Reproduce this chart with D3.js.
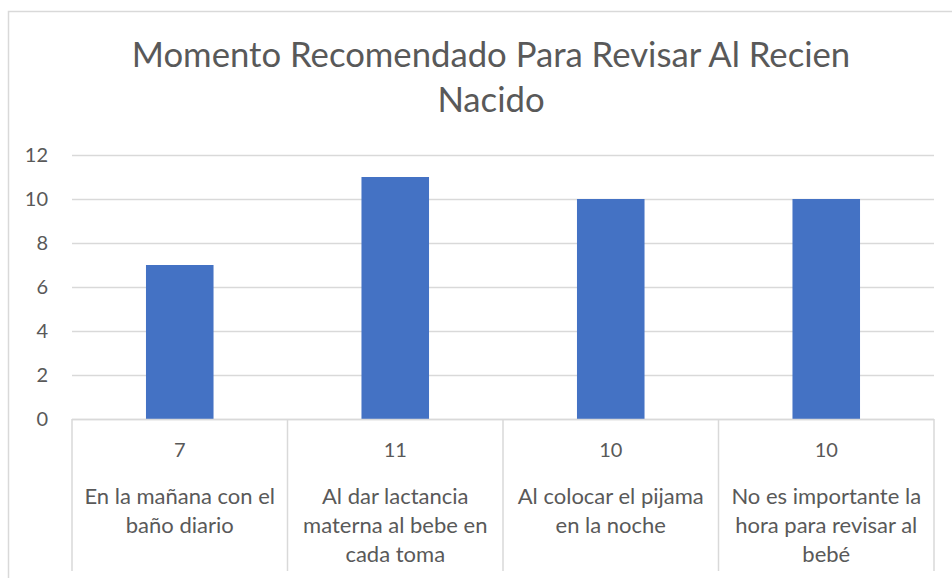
<!DOCTYPE html>
<html>
<head>
<meta charset="utf-8">
<script src="https://cdn.jsdelivr.net/npm/d3@7"></script>
<style>
  body { margin: 0; background: #fff; }
  svg { display: block; font-family: Lato, "Open Sans", sans-serif; }
</style>
</head>
<body>
<div id="chart"></div>
<script>
// chart data
const title = ["Momento Recomendado Para Revisar Al Recien", "Nacido"];
const categoryLines = [
  ["En la mañana con el", "baño diario"],
  ["Al dar lactancia", "materna al bebe en", "cada toma"],
  ["Al colocar el pijama", "en la noche"],
  ["No es importante la", "hora para revisar al", "bebé"]
];
const categories = categoryLines.map(l => l.join(" "));
const values = [7, 11, 10, 10];
const yTicks = [0, 2, 4, 6, 8, 10, 12];

const w = 952, h = 578;
const plotLeft = 72, plotRight = 934, plotTop = 155, plotBottom = 419;
const textColor = "#595959", gridColor = "#d9d9d9";

const svg = d3.select("#chart").append("svg")
  .attr("width", w).attr("height", h);

// outer chart border (cropped on right and bottom)
svg.append("rect")
  .attr("x", 8.5).attr("y", 11.5)
  .attr("width", 1000).attr("height", 1000)
  .attr("fill", "none").attr("stroke", gridColor).attr("stroke-width", 1.5);

// title
svg.append("text")
  .attr("x", 491).attr("y", 67)
  .attr("text-anchor", "middle")
  .attr("fill", textColor)
  .style("font-size", "34.7px")
  .selectAll("tspan").data(title).enter().append("tspan")
  .attr("x", 491)
  .attr("dy", (d, i) => i === 0 ? 0 : 45)
  .text(d => d);

const x = d3.scaleBand().domain(categories).range([plotLeft, plotRight]).padding(0);
const y = d3.scaleLinear().domain([0, 12]).range([plotBottom, plotTop]);

// gridlines
svg.append("g").selectAll("line").data(yTicks).enter().append("line")
  .attr("x1", plotLeft).attr("x2", plotRight)
  .attr("y1", d => Math.round(y(d)) + 0.5).attr("y2", d => Math.round(y(d)) + 0.5)
  .attr("stroke", gridColor).attr("stroke-width", 1.5);

// y axis labels
const yAxis = d3.axisLeft(y).tickValues(yTicks).tickSize(0).tickPadding(24);
const gy = svg.append("g").attr("transform", "translate(" + plotLeft + ",0)").call(yAxis);
gy.select(".domain").remove();
gy.selectAll("text").attr("fill", textColor).style("font-size", "20px")
  .style("font-family", "Lato, 'Open Sans', sans-serif");

// bars
const barW = x.bandwidth() / 3.19;
svg.append("g").selectAll("rect").data(values).enter().append("rect")
  .attr("x", (d, i) => x(categories[i]) + (x.bandwidth() - barW) / 2)
  .attr("y", d => y(d))
  .attr("width", barW)
  .attr("height", d => y(0) - y(d))
  .attr("fill", "#4472c4");

// data table below the axis
const tableBottom = 571;
const table = svg.append("g");
table.append("line")
  .attr("x1", plotLeft).attr("x2", plotRight)
  .attr("y1", plotBottom + 0.5).attr("y2", plotBottom + 0.5)
  .attr("stroke", gridColor).attr("stroke-width", 1.5);
table.selectAll("line.v").data(d3.range(categories.length + 1)).enter().append("line")
  .attr("class", "v")
  .attr("x1", i => plotLeft + i * x.bandwidth()).attr("x2", i => plotLeft + i * x.bandwidth())
  .attr("y1", plotBottom).attr("y2", tableBottom)
  .attr("stroke", gridColor).attr("stroke-width", 1.5);

// values row
table.selectAll("text.val").data(values).enter().append("text")
  .attr("class", "val")
  .attr("x", (d, i) => x(categories[i]) + x.bandwidth() / 2)
  .attr("y", 457)
  .attr("text-anchor", "middle")
  .attr("fill", textColor)
  .style("font-size", "20px")
  .text(d => d);

// category labels
const cat = table.selectAll("text.cat").data(categoryLines).enter().append("text")
  .attr("class", "cat")
  .attr("text-anchor", "middle")
  .attr("fill", textColor)
  .style("font-size", "22px");
cat.each(function(lines, i) {
  const cx = x(categories[i]) + x.bandwidth() / 2;
  d3.select(this).selectAll("tspan").data(lines).enter().append("tspan")
    .attr("x", cx)
    .attr("y", (d, j) => 504 + j * 29)
    .text(d => d);
});
</script>
</body>
</html>
